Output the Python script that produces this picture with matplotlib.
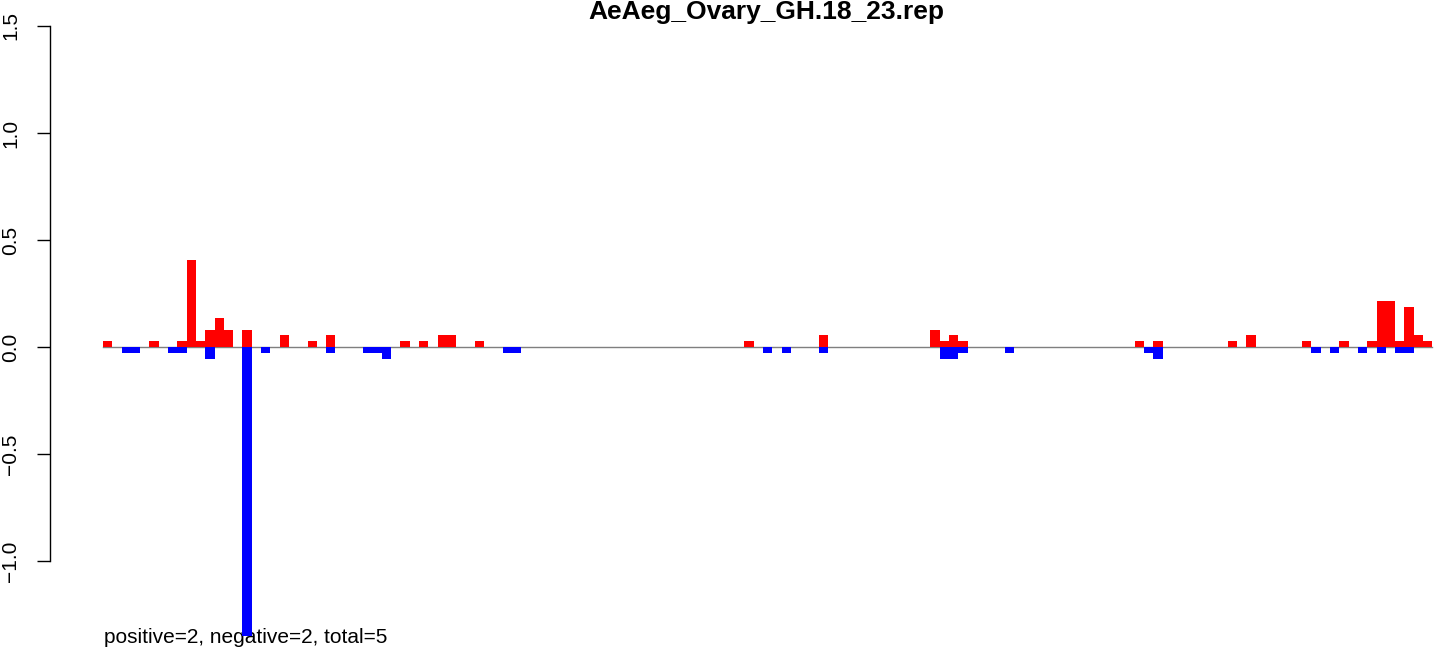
import matplotlib
matplotlib.use("Agg")
import matplotlib.pyplot as plt

plt.rcParams['font.family'] = ['Liberation Sans', 'DejaVu Sans']

title = "AeAeg_Ovary_GH.18_23.rep"
summary = "positive=2, negative=2, total=5"
n_bins = 143

pos_bins = [0, 5, 8, 9, 10, 11, 12, 13, 15, 19, 22, 24, 32, 34, 36, 37, 40,
            69, 77, 89, 90, 91, 92, 111, 113, 121, 123, 129, 133, 136, 137,
            138, 139, 140, 141, 142]
pos_vals = [0.027, 0.027, 0.027, 0.405, 0.027, 0.081, 0.135, 0.081, 0.081,
            0.054, 0.027, 0.054, 0.027, 0.027, 0.054, 0.054, 0.027,
            0.027, 0.054, 0.081, 0.027, 0.054, 0.027, 0.027, 0.027, 0.027,
            0.054, 0.027, 0.027, 0.027, 0.216, 0.216, 0.027, 0.189, 0.054,
            0.027]

neg_bins = [2, 3, 7, 8, 11, 15, 17, 24, 28, 29, 30, 43, 44, 71, 73, 77, 90,
            91, 92, 97, 112, 113, 130, 132, 135, 137, 139, 140]
neg_vals = [-0.027, -0.027, -0.027, -0.027, -0.054, -1.35, -0.027, -0.027,
            -0.027, -0.027, -0.054, -0.027, -0.027, -0.027, -0.027, -0.027,
            -0.054, -0.054, -0.027, -0.027, -0.027, -0.054, -0.027, -0.027,
            -0.027, -0.027, -0.027, -0.027]

yticks = [-1.0, -0.5, 0.0, 0.5, 1.0, 1.5]
ytick_labels = ["\u22121.0", "\u22120.5", "0.0", "0.5", "1.0", "1.5"]

W, H = 1441, 652
fig = plt.figure(figsize=(W / 100, H / 100), dpi=100)
ax_left = 50
ax = fig.add_axes([ax_left / W, 0, 1 - ax_left / W, 1])

step = 9.296
first_px = 103
ax.set_xlim(-(first_px - ax_left) / step, (W - first_px) / step)
ax.set_ylim(-(H - 347) / 214.0, 347 / 214.0)

ax.bar(pos_bins, pos_vals, width=1.0, align='edge', color='#FF0000',
       linewidth=0, zorder=3)
ax.bar(neg_bins, neg_vals, width=1.0, align='edge', color='#0000FF',
       linewidth=0, zorder=3)
ax.plot([0, n_bins], [0, 0], color='#7f7f7f', lw=1.0, zorder=2)

for s in ['top', 'right', 'bottom']:
    ax.spines[s].set_visible(False)
ax.spines['left'].set_bounds(-1.0, 1.5)
ax.spines['left'].set_linewidth(1.0)
ax.set_xticks([])
ax.set_yticks(yticks)
ax.set_yticklabels(ytick_labels, rotation=90, va='center', fontsize=15)
ax.tick_params(axis='y', length=9.4, width=1.0, pad=12)

fig.text(766 / W, 1 - 12 / H, title, ha='center', va='center',
         fontsize=19, fontweight='bold')
ax.text(0.15, -(643 - 347) / 214.0, summary, ha='left', va='baseline',
        fontsize=15, zorder=1)

fig.savefig("out.png", dpi=100)
